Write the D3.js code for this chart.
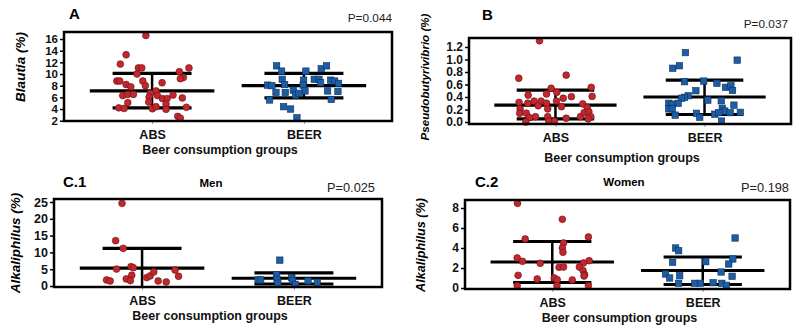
<!DOCTYPE html>
<html lang="en">
<head>
    <meta charset="UTF-8">
    <title>Beer consumption groups</title>
    <script src="https://d3js.org/d3.v7.min.js"></script>
    <style>
        html,
        body {
            margin: 0;
            height: 100%;
            overflow: hidden;
            background: #fff;
        }
        svg text {
            font-family: "Liberation Sans", Arial, sans-serif;
        }
    </style>
</head>
<body>
    <svg id="svg"></svg>
    <script>
        // groups sit at x = 0 and x = 1; each point is [jitter, value]
        const groups = ['ABS', 'BEER'];

        // A - Blautia
        const aTicks = [2, 4, 6, 8, 10, 12, 14, 16];
        const aAbs = [[-0.041, 16.6], [-0.171, 13.3], [-0.209, 11.7], [-0.090, 11.05], [-0.068, 11.05], [-0.099, 10.0],
            [0.243, 11.05], [0.180, 10.4], [0.206, 9.4], [0.186, 9.2], [-0.232, 8.8], [-0.213, 8.8], [-0.061, 8.8],
            [-0.044, 8.0], [-0.171, 8.2], [-0.140, 7.8], [0.066, 8.5], [0.026, 7.1], [-0.011, 6.7], [-0.193, 6.3],
            [-0.160, 6.5], [-0.123, 6.5], [-0.020, 6.05], [0.035, 6.3], [0.068, 5.8], [0.099, 5.8], [0.138, 6.4],
            [0.199, 5.9], [-0.160, 5.1], [-0.022, 5.2], [0.092, 4.85], [-0.219, 4.2], [-0.184, 4.1], [0.002, 4.05],
            [0.026, 4.4], [0.092, 3.95], [0.226, 4.3], [0.169, 2.75], [0.186, 2.45]];
        const aBeer = [[-0.180, 11.4], [-0.147, 10.5], [0.013, 10.5], [0.114, 10.9], [0.149, 11.4], [-0.143, 9.1],
            [-0.002, 8.95], [0.068, 9.1], [0.099, 9.1], [0.110, 8.5], [0.176, 8.95], [0.202, 8.8], [0.228, 8.4],
            [-0.239, 8.1], [-0.211, 8.0], [-0.127, 8.2], [-0.005, 8.1], [0.007, 7.1], [-0.184, 6.85], [-0.123, 6.85],
            [-0.070, 7.25], [-0.055, 6.4], [-0.033, 6.7], [0.156, 7.1], [0.224, 7.0], [-0.226, 5.55], [0.180, 5.65],
            [-0.134, 4.4], [-0.088, 4.0], [-0.046, 2.5]];
        const aStats = [[7.1, 4.2, 10.1], [8.0, 5.9, 10.1]]; // mean, mean-sd, mean+sd

        // B - Pseudobutyrivibrio
        const bTicks = [0, 0.2, 0.4, 0.6, 0.8, 1.0, 1.2];
        const bAbs = [[-0.107, 1.30], [-0.246, 0.70], [0.072, 0.75], [0.240, 0.555], [0.246, 0.41], [-0.029, 0.54],
            [-0.060, 0.45], [-0.183, 0.43], [0.009, 0.475], [0.052, 0.38], [0.107, 0.405], [-0.244, 0.315],
            [-0.186, 0.30], [-0.143, 0.335], [-0.096, 0.335], [-0.060, 0.30], [-0.116, 0.26], [0.007, 0.335],
            [0.040, 0.245], [0.183, 0.29], [0.213, 0.235], [-0.237, 0.21], [-0.240, 0.14], [-0.195, 0.14],
            [-0.174, 0.07], [-0.134, 0.085], [-0.052, 0.21], [-0.052, 0.085], [0.072, 0.06], [0.168, 0.085],
            [0.193, 0.15], [0.224, 0.165], [0.237, 0.085], [0.220, 0.05], [-0.199, 0.0], [-0.045, 0.015], [-0.007, 0.015]];
        const bBeer = [[-0.128, 1.11], [0.219, 0.99], [-0.213, 0.86], [-0.168, 0.90], [-0.134, 0.645], [-0.005, 0.655],
            [0.083, 0.62], [0.141, 0.555], [0.177, 0.58], [0.188, 0.505], [-0.058, 0.50], [-0.109, 0.42],
            [-0.134, 0.395], [-0.154, 0.38], [0.022, 0.35], [0.112, 0.34], [-0.240, 0.30], [-0.217, 0.285],
            [-0.177, 0.30], [0.197, 0.27], [-0.240, 0.21], [-0.217, 0.21], [0.119, 0.22], [0.136, 0.175],
            [-0.197, 0.11], [-0.054, 0.14], [-0.032, 0.075], [0.069, 0.125], [0.096, 0.15], [0.172, 0.15],
            [0.240, 0.155], [0.114, 0.015]];
        const bStats = [[0.27, 0.05, 0.51], [0.40, 0.12, 0.67]];

        // C.1 - Alkaliphilus, men
        const c1Ticks = [0, 5, 10, 15, 20, 25];
        const c1Abs = [[-0.132, 24.6], [-0.174, 13.5], [-0.124, 11.2], [-0.168, 5.05], [-0.073, 5.75], [-0.058, 5.45],
            [0.217, 4.75], [0.240, 2.9], [-0.068, 3.2], [-0.104, 2.1], [-0.077, 1.6], [-0.234, 1.8], [-0.210, 1.5],
            [0.031, 2.5], [0.053, 3.0], [0.077, 4.2], [0.106, 1.5], [0.159, 1.2]];
        const c1Beer = [[-0.093, 7.7], [-0.115, 3.3], [-0.236, 1.8], [-0.219, 1.8], [-0.111, 2.0], [-0.106, 0.8],
            [-0.015, 2.5], [-0.009, 1.6], [0.009, 0.5], [0.093, 1.5], [0.154, 1.1]];
        const c1Stats = [[5.3, -0.6, 11.2], [2.3, 0.6, 3.9]];

        // C.2 - Alkaliphilus, women
        const c2Ticks = [0, 2, 4, 6, 8];
        const c2Abs = [[-0.231, 8.47], [0.067, 6.87], [-0.180, 4.9], [0.240, 5.1], [0.075, 4.5], [0.067, 4.0],
            [0.071, 3.57], [-0.233, 3.0], [-0.198, 2.67], [-0.080, 2.47], [0.245, 2.73], [0.207, 2.5], [0.045, 2.07],
            [0.075, 2.1], [0.180, 2.1], [0.205, 1.73], [0.215, 1.33], [0.211, 1.2], [-0.227, 1.27], [-0.100, 0.9],
            [0.013, 1.0], [0.033, 0.83], [0.133, 0.8], [-0.233, 0.23], [0.031, 0.23], [0.240, 0.23]];
        const c2Beer = [[0.215, 5.0], [-0.180, 4.0], [-0.160, 3.73], [0.200, 2.9], [0.173, 2.4], [-0.200, 2.57],
            [0.020, 2.63], [0.122, 1.6], [-0.247, 1.4], [-0.220, 1.0], [-0.153, 1.23], [0.195, 1.17], [-0.160, 0.47],
            [-0.053, 0.47], [-0.015, 0.47], [0.069, 0.53], [0.127, 0.47], [0.158, 0.27]];
        const c2Stats = [[2.6, 0.55, 4.65], [1.75, 0.35, 3.1]];

        const width = 797, height = 333;
        const svg = d3.select('#svg').attr('width', width).attr('height', height);

        const panels = [
            {
                key: 'a', box: [64, 392, 32, 121], yDomain: [1.95, 17.2], ticks: aTicks, fmt: d3.format('d'),
                label: 'Blautia (%)', labelPos: [20, 67], labelSize: 13.5, tickSize: 11.5,
                title: 'A', titlePos: [69, 19], titleSize: 15, sub: null,
                p: 'P=0.044', pPos: [392, 22], pSize: 11.8,
                abs: aAbs, beer: aBeer, stats: aStats, xlabelY: 154
            },
            {
                key: 'b', box: [469, 791, 38, 124], yDomain: [-0.032, 1.344], ticks: bTicks, fmt: d3.format('.1f'),
                label: 'Pseudobutyrivibrio (%)', labelPos: [425, 77], labelSize: 11.6, tickSize: 12,
                title: 'B', titlePos: [482, 20], titleSize: 15, sub: null,
                p: 'P=0.037', pPos: [788, 28], pSize: 11.8,
                abs: bAbs, beer: bBeer, stats: bStats, xlabelY: 162
            },
            {
                key: 'c1', box: [54, 382, 199, 287], yDomain: [-0.3, 25.9], ticks: c1Ticks, fmt: d3.format('d'),
                label: 'Alkaliphilus (%)', labelPos: [15, 243], labelSize: 13.5, tickSize: 12.5,
                title: 'C.1', titlePos: [63, 187], titleSize: 15, sub: 'Men', subPos: [211, 187],
                p: 'P=0.025', pPos: [375, 192], pSize: 12.8,
                abs: c1Abs, beer: c1Beer, stats: c1Stats, xlabelY: 320
            },
            {
                key: 'c2', box: [465, 790, 200, 289], yDomain: [-0.1, 8.8], ticks: c2Ticks, fmt: d3.format('d'),
                label: 'Alkaliphilus (%)', labelPos: [421, 245], labelSize: 12.6, tickSize: 12,
                title: 'C.2', titlePos: [475, 187], titleSize: 15, sub: 'Women', subPos: [624, 186],
                p: 'P=0.198', pPos: [789, 192], pSize: 12.8,
                abs: c2Abs, beer: c2Beer, stats: c2Stats, xlabelY: 322
            }
        ];

        const red = '#c1272d', blue = '#1b5ea6';

        panels.forEach(p => {
            const [x0, x1, y0, y1] = p.box;
            const x = d3.scaleLinear().domain([-0.58, 1.58]).range([x0, x1]);
            const y = d3.scaleLinear().domain(p.yDomain).range([y1, y0]);
            const g = svg.append('g');

            g.append('clipPath').attr('id', 'clip-' + p.key)
                .append('rect').attr('x', x0).attr('y', y0).attr('width', x1 - x0).attr('height', y1 - y0);

            // y axis
            const ya = g.append('g').attr('transform', `translate(${x0},0)`)
                .call(d3.axisLeft(y).tickValues(p.ticks).tickFormat(p.fmt).tickSize(4).tickPadding(2));
            ya.select('.domain').remove();
            ya.selectAll('line').attr('stroke', '#000').attr('stroke-width', 1.5);
            ya.selectAll('text').attr('font-size', p.tickSize).attr('font-weight', 'bold').attr('fill', '#111');

            // x axis
            const xa = g.append('g').attr('transform', `translate(0,${y1})`)
                .call(d3.axisBottom(x).tickValues([0, 1]).tickFormat(i => groups[i]).tickSize(3).tickPadding(6));
            xa.select('.domain').remove();
            xa.selectAll('line').attr('stroke', '#999');
            xa.selectAll('text').attr('font-size', 12.5).attr('font-weight', 'bold').attr('fill', '#111');

            const plot = g.append('g').attr('clip-path', `url(#clip-${p.key})`);

            // mean and sd bars
            p.stats.forEach((s, i) => {
                const [mean, lo, hi] = s;
                plot.append('line').attr('x1', x(i)).attr('x2', x(i)).attr('y1', y(lo)).attr('y2', y(hi))
                    .attr('stroke', '#000').attr('stroke-width', 2.5);
                plot.append('line').attr('x1', x(i - 0.41)).attr('x2', x(i + 0.41)).attr('y1', y(mean)).attr('y2', y(mean))
                    .attr('stroke', '#000').attr('stroke-width', 3.2);
                [lo, hi].forEach(v => {
                    plot.append('line').attr('x1', x(i - 0.26)).attr('x2', x(i + 0.26)).attr('y1', y(v)).attr('y2', y(v))
                        .attr('stroke', '#000').attr('stroke-width', 3.2);
                });
            });

            // points
            g.selectAll('.abs-' + p.key).data(p.abs).join('circle')
                .attr('class', 'abs-' + p.key)
                .attr('cx', d => x(d[0]))
                .attr('cy', d => y(d[1]))
                .attr('r', 3.4)
                .attr('fill', red)
                .attr('stroke', '#6a1212')
                .attr('stroke-width', 0.6);

            g.selectAll('.beer-' + p.key).data(p.beer).join('rect')
                .attr('class', 'beer-' + p.key)
                .attr('x', d => x(1 + d[0]) - 3.2)
                .attr('y', d => y(d[1]) - 3.2)
                .attr('width', 6.4)
                .attr('height', 6.4)
                .attr('fill', blue)
                .attr('stroke', '#0c2f57')
                .attr('stroke-width', 0.6);

            // frame
            g.append('rect').attr('x', x0).attr('y', y0).attr('width', x1 - x0).attr('height', y1 - y0)
                .attr('fill', 'none').attr('stroke', '#000').attr('stroke-width', 2.5);

            // texts
            g.append('text').attr('transform', `translate(${p.labelPos[0]},${p.labelPos[1]}) rotate(-90)`)
                .attr('text-anchor', 'middle').attr('dy', '0.35em')
                .attr('font-size', p.labelSize).attr('font-weight', 'bold').attr('font-style', 'italic')
                .text(p.label);

            g.append('text').attr('x', p.titlePos[0]).attr('y', p.titlePos[1])
                .attr('font-size', p.titleSize).attr('font-weight', 'bold').text(p.title);

            if (p.sub) {
                g.append('text').attr('x', p.subPos[0]).attr('y', p.subPos[1]).attr('text-anchor', 'middle')
                    .attr('font-size', 11.5).attr('font-weight', 'bold').text(p.sub);
            }

            g.append('text').attr('x', p.pPos[0]).attr('y', p.pPos[1]).attr('text-anchor', 'end')
                .attr('font-size', p.pSize).attr('fill', '#222').text(p.p);

            g.append('text').attr('x', (x0 + x1) / 2 - 8).attr('y', p.xlabelY).attr('text-anchor', 'middle')
                .attr('font-size', 12.5).attr('font-weight', 'bold').attr('fill', '#111')
                .text('Beer consumption groups');
        });
    </script>
</body>
</html>
